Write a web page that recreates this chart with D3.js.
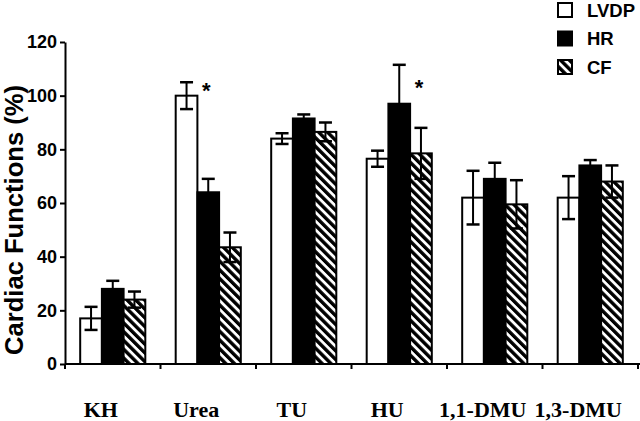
<!DOCTYPE html>
<html>
<head>
<meta charset="utf-8">
<script src="https://cdn.jsdelivr.net/npm/d3@7"></script>
<style>
  body { margin: 0; background: #fff; }
  svg { display: block; }
</style>
</head>
<body>
<script>
// data
const categories = ["KH", "Urea", "TU", "HU", "1,1-DMU", "1,3-DMU"];
const series = ["LVDP", "HR", "CF"];
const lvdp = [17, 100, 84, 76.5, 62, 62];
const lvdpErr = [4.3, 5, 2, 3, 10, 8];
const hr = [28, 64, 91.5, 97, 69, 74];
const hrErr = [3, 5, 1.5, 14.5, 6, 2];
const cf = [24, 43.5, 86.5, 78.5, 59.5, 68];
const cfErr = [3, 5.5, 3.5, 9.5, 9, 6];
const yTicks = [0, 20, 40, 60, 80, 100, 120];
const stars = [{cat: "Urea", s: "HR", v: 104}, {cat: "HU", s: "CF", v: 105}];

const width = 640, height = 421;
const margin = {top: 42, right: 2, bottom: 57, left: 65};

const vals = {LVDP: lvdp, HR: hr, CF: cf};
const errs = {LVDP: lvdpErr, HR: hrErr, CF: cfErr};
const rows = [];
categories.forEach((c, i) => {
  series.forEach(s => rows.push({cat: c, s: s, v: vals[s][i], e: errs[s][i]}));
});

const svg = d3.select("body").append("svg")
  .attr("width", width)
  .attr("height", height);

svg.append("rect").attr("width", width).attr("height", height).attr("fill", "#fff");

// hatch for CF
const defs = svg.append("defs");
defs.append("pattern")
    .attr("id", "hatch")
    .attr("patternUnits", "userSpaceOnUse")
    .attr("width", 6.2)
    .attr("height", 6.2)
    .attr("patternTransform", "rotate(-45)")
  .call(p => {
    p.append("rect").attr("width", 6.2).attr("height", 6.2).attr("fill", "#fff");
    p.append("rect").attr("width", 3.4).attr("height", 6.2).attr("fill", "#000");
  });

const fills = {LVDP: "#fff", HR: "#000", CF: "url(#hatch)"};

const x = d3.scaleBand()
  .domain(categories)
  .range([margin.left, width - margin.right]);

const x1 = d3.scaleBand()
  .domain(series)
  .range([0, x.bandwidth()])
  .paddingOuter(0.7);

const y = d3.scaleLinear()
  .domain([0, 120])
  .range([height - margin.bottom, margin.top]);

// bars
svg.append("g")
  .selectAll("rect")
  .data(rows)
  .join("rect")
    .attr("x", d => x(d.cat) + x1(d.s))
    .attr("y", d => y(d.v))
    .attr("width", x1.bandwidth())
    .attr("height", d => y(0) - y(d.v))
    .attr("fill", d => fills[d.s])
    .attr("stroke", "#000")
    .attr("stroke-width", 2);

// error bars
const eb = svg.append("g").attr("stroke", "#000");
const cx = d => x(d.cat) + x1(d.s) + x1.bandwidth() / 2;
eb.selectAll(".stem")
  .data(rows)
  .join("line")
    .attr("x1", cx).attr("x2", cx)
    .attr("y1", d => y(d.v + d.e))
    .attr("y2", d => y(d.v - d.e))
    .attr("stroke-width", 2);
eb.selectAll(".cap")
  .data(rows.flatMap(d => [{d: d, v: d.v + d.e}, {d: d, v: d.v - d.e}]))
  .join("line")
    .attr("x1", c => cx(c.d) - 6.5).attr("x2", c => cx(c.d) + 6.5)
    .attr("y1", c => y(c.v)).attr("y2", c => y(c.v))
    .attr("stroke-width", 2.5);

// asterisks
svg.append("g")
  .selectAll("text")
  .data(stars)
  .join("text")
    .attr("x", d => x(d.cat) + x1(d.s) + x1.bandwidth() / 2 - 2)
    .attr("y", d => y(d.v) + 13)
    .attr("text-anchor", "middle")
    .attr("font-family", "Liberation Sans, Arial, sans-serif")
    .attr("font-weight", "bold")
    .attr("font-size", 22)
    .text("*");

// y axis
const yAxis = svg.append("g")
  .attr("transform", `translate(${margin.left},0)`)
  .call(d3.axisLeft(y).tickValues(yTicks).tickSize(5).tickSizeOuter(0).tickPadding(3));
yAxis.select(".domain").attr("stroke-width", 2);
yAxis.selectAll(".tick line").attr("stroke-width", 2);
yAxis.selectAll("text")
  .attr("font-family", "Liberation Sans, Arial, sans-serif")
  .attr("font-weight", "bold")
  .attr("font-size", 18)
  .attr("fill", "#000");

// x axis: ticks at group boundaries
const bounds = categories.map(c => x(c)).concat([x.range()[1]]);
const xAxisG = svg.append("g")
  .attr("transform", `translate(0,${y(0)})`);
xAxisG.append("line")
  .attr("x1", margin.left).attr("x2", width)
  .attr("stroke", "#000").attr("stroke-width", 2);
xAxisG.selectAll(".tk")
  .data(bounds)
  .join("line")
    .attr("x1", d => d).attr("x2", d => d)
    .attr("y1", 0).attr("y2", 5)
    .attr("stroke", "#000").attr("stroke-width", 2);

// category labels
svg.append("g")
  .selectAll("text")
  .data(categories)
  .join("text")
    .attr("x", d => x(d) + x.bandwidth() / 2 - 12)
    .attr("y", 417)
    .attr("text-anchor", "middle")
    .attr("font-family", "Liberation Serif, Times New Roman, serif")
    .attr("font-weight", "bold")
    .attr("font-size", 22)
    .text(d => d);

// y title
svg.append("text")
  .attr("transform", "translate(23,220) rotate(-90)")
  .attr("text-anchor", "middle")
  .attr("font-family", "Liberation Sans, Arial, sans-serif")
  .attr("font-weight", "bold")
  .attr("font-size", 25)
  .attr("textLength", 270)
  .attr("lengthAdjust", "spacingAndGlyphs")
  .text("Cardiac Functions (%)");

// legend
const legend = svg.append("g")
  .attr("transform", "translate(558,3)");
const lg = legend.selectAll("g")
  .data(series)
  .join("g")
    .attr("transform", (d, i) => `translate(0,${i * 28.5})`);
lg.append("rect")
  .attr("width", 14).attr("height", 14)
  .attr("fill", d => fills[d])
  .attr("stroke", "#000").attr("stroke-width", 2);
lg.append("text")
  .attr("x", 29).attr("y", 7)
  .attr("dy", "0.36em")
  .attr("font-family", "Liberation Sans, Arial, sans-serif")
  .attr("font-weight", "bold")
  .attr("font-size", 18.5)
  .text(d => d);
</script>
</body>
</html>
